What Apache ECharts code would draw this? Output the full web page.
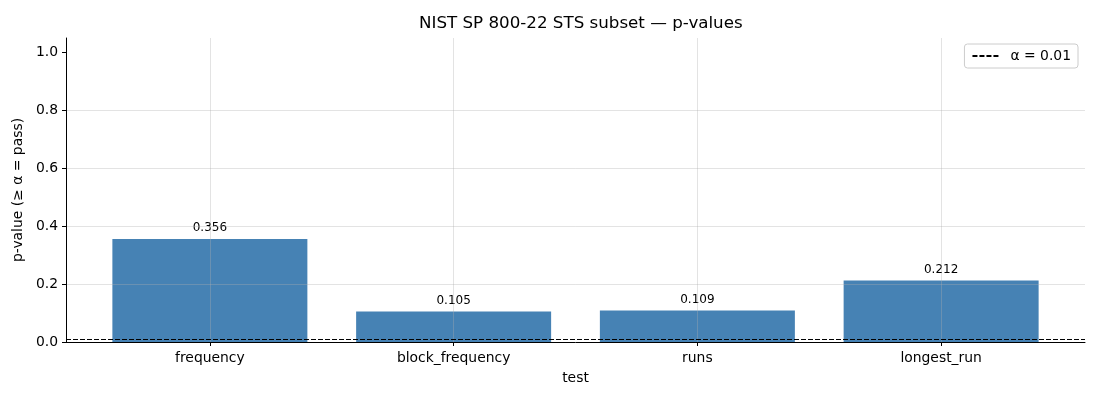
<!DOCTYPE html>
<html>
<head>
<meta charset="utf-8">
<script src="https://cdn.jsdelivr.net/npm/echarts@6/dist/echarts.min.js"></script>
<style>
  html, body { margin: 0; padding: 0; background: #fff; }
  #chart { width: 1100px; height: 400px; }
</style>
</head>
<body>
<div id="chart"></div>
<script>
const tests = ['frequency', 'block_frequency', 'runs', 'longest_run'];
const pValues = [0.356, 0.105, 0.109, 0.212];
const alpha = 0.01;
const yTicks = [0, 0.2, 0.4, 0.6, 0.8, 1.0];

const font = 'DejaVu Sans';
const gridColor = 'rgba(176, 176, 176, 0.35)';

const chart = echarts.init(document.getElementById('chart'));

chart.setOption({
  animation: false,
  textStyle: { fontFamily: font, color: '#000' },
  title: {
    text: 'NIST SP 800-22 STS subset \u2014 p-values',
    left: 414,
    top: 10,
    textStyle: { fontFamily: font, fontSize: 16.7, fontWeight: 'normal', color: '#000' }
  },
  legend: {
    data: ['\u03b1 = 0.01'],
    right: 22,
    top: 44,
    padding: [5, 7],
    borderColor: '#cccccc',
    borderWidth: 1,
    borderRadius: 3,
    itemWidth: 28,
    itemHeight: 10,
    itemGap: 10,
    itemStyle: { opacity: 0 },
    textStyle: { fontFamily: font, fontSize: 13.9, color: '#000', padding: [0, 0, 0, 5] }
  },
  grid: [
    // bars: band width matches matplotlib's category spacing
    { left: 88, right: 37, top: 38, bottom: 58 },
    // frame: spines, y ticks, horizontal grid, threshold line
    { left: 66, right: 15, top: 38, bottom: 58 }
  ],
  xAxis: [
    {
      gridIndex: 0,
      type: 'category',
      data: tests,
      z: 3,
      axisLine: { show: false },
      axisTick: { show: true, alignWithLabel: true, length: 4, lineStyle: { color: '#000' } },
      axisLabel: { fontFamily: font, fontSize: 13.9, color: '#000', margin: 9 },
      splitLine: { show: true, alignWithLabel: true, lineStyle: { color: gridColor, width: 1 } },
      name: 'test',
      nameLocation: 'middle',
      nameGap: 29,
      nameTextStyle: { fontFamily: font, fontSize: 13.9, color: '#000' }
    },
    {
      gridIndex: 1,
      type: 'value',
      min: 0,
      max: 1,
      z: 3,
      axisLine: { show: true, lineStyle: { color: '#000', width: 1 } },
      axisTick: { show: false },
      axisLabel: { show: false },
      splitLine: { show: false }
    }
  ],
  yAxis: [
    {
      gridIndex: 0,
      type: 'value',
      min: 0,
      max: 1.05,
      show: false
    },
    {
      gridIndex: 1,
      type: 'value',
      min: 0,
      max: 1.05,
      z: 3,
      axisLine: { show: true, lineStyle: { color: '#000', width: 1 } },
      axisTick: { show: true, length: 4, customValues: yTicks, lineStyle: { color: '#000' } },
      axisLabel: {
        fontFamily: font, fontSize: 13.9, color: '#000', margin: 8,
        customValues: yTicks,
        formatter: v => v.toFixed(1)
      },
      splitLine: { show: true, showMaxLine: false, showMinLine: false, lineStyle: { color: gridColor, width: 1 } },
      name: 'p-value (\u2265 \u03b1 = pass)',
      nameLocation: 'middle',
      nameGap: 35,
      nameTextStyle: { fontFamily: font, fontSize: 13.9, color: '#000' }
    }
  ],
  series: [
    {
      type: 'bar',
      name: 'p-value',
      xAxisIndex: 0,
      yAxisIndex: 0,
      data: pValues,
      barWidth: '80%',
      itemStyle: { color: '#4682b4' },
      label: {
        show: true,
        position: 'top',
        distance: 5,
        fontFamily: font,
        fontSize: 12,
        color: '#000',
        formatter: p => p.value.toFixed(3)
      }
    },
    {
      type: 'line',
      name: '\u03b1 = 0.01',
      xAxisIndex: 1,
      yAxisIndex: 1,
      data: [],
      symbol: 'none',
      z: 4,
      itemStyle: { color: '#000' },
      lineStyle: { color: '#000', width: 1, type: [5, 2] },
      markLine: {
        silent: true,
        symbol: 'none',
        label: { show: false },
        lineStyle: { color: '#000', width: 1, type: [5, 2] },
        data: [{ yAxis: alpha }]
      }
    }
  ]
});

window.addEventListener('resize', () => {
  chart.resize();
});
</script>
</body>
</html>
